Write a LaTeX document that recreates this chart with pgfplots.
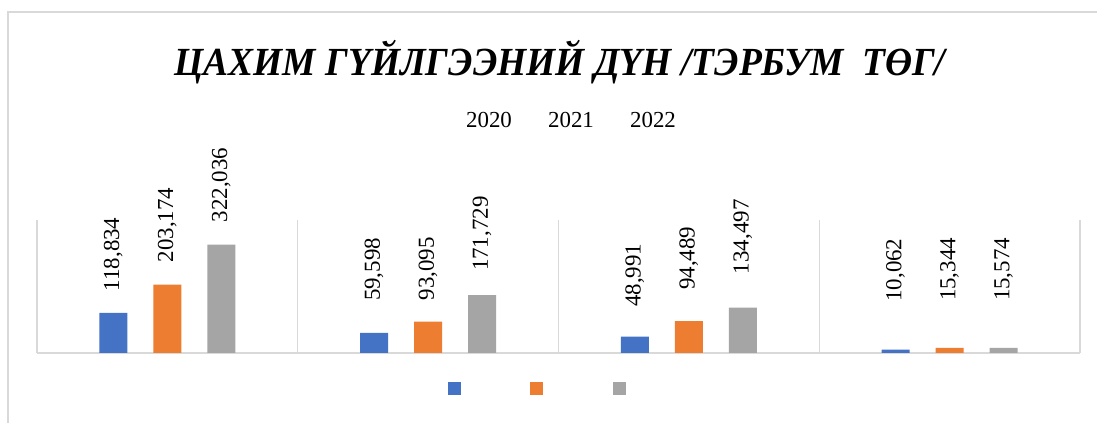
\documentclass[border=0pt]{standalone}
\usepackage{pgfplots}
\pgfplotsset{compat=1.18}
\usepackage{fontspec}
\setmainfont{Liberation Serif}
\definecolor{cblue}{HTML}{4472C4}
\definecolor{corange}{HTML}{ED7D31}
\definecolor{cgray}{HTML}{A5A5A5}
\definecolor{cgrid}{HTML}{D9D9D9}
\begin{document}
\begin{tikzpicture}
\useasboundingbox (0,0) rectangle (1097bp,423bp);
\fill[white] (0,0) rectangle (1097bp,423bp);
\draw[cgrid, line width=1.2bp] (1120bp,411bp) -- (8bp,411bp) -- (8bp,-20bp);
\node[font=\bfseries\itshape\fontsize{40}{48}\selectfont] at (560bp,361bp) {\scalebox{0.94}[1]{ЦАХИМ ГҮЙЛГЭЭНИЙ ДҮН /ТЭРБУМ \ ТӨГ/}};
\node[font=\fontsize{23}{27}\selectfont] at (489bp,303bp) {2020};
\node[font=\fontsize{23}{27}\selectfont] at (571bp,303bp) {2021};
\node[font=\fontsize{23}{27}\selectfont] at (653bp,303bp) {2022};
\begin{axis}[
  at={(37bp,70bp)}, anchor=south west,
  scale only axis, width=1043bp, height=133bp,
  xmin=0.5, xmax=4.5, ymin=0, ymax=395,
  axis line style={draw=none},
  xtick={0.5,1.5,2.5,3.5,4.5}, xticklabels={},
  ytick={0}, yticklabels={},
  major tick length=0pt,
  xmajorgrids, ymajorgrids,
  grid style={cgrid, line width=1.2bp},
  clip=false,
  legend columns=3,
  legend style={at={(rel axis cs:0.394,-0.267)}, anchor=west, draw=none, fill=none,
    inner sep=0pt, outer sep=0pt,
    nodes={inner sep=0pt, outer sep=0pt},
    /tikz/every even column/.append style={column sep=19.5bp}},
  legend image code/.code={\fill[#1] (0bp,-6.5bp) rectangle (13bp,6.5bp);},
  every node near coord/.append style={font=\fontsize{23}{27}\selectfont, rotate=90, anchor=west, inner sep=0pt, black},
]
\addplot[ybar, bar width=28bp, bar shift=-54bp, fill=cblue, draw=none] coordinates {(1,118.834) (2,59.598) (3,48.991) (4,10.062)};
\addlegendentry{\hspace*{50bp}}
\addplot[ybar, bar width=28bp, bar shift=0bp, fill=corange, draw=none] coordinates {(1,203.174) (2,93.095) (3,94.489) (4,15.344)};
\addlegendentry{\hspace*{50bp}}
\addplot[ybar, bar width=28bp, bar shift=54bp, fill=cgray, draw=none] coordinates {(1,322.036) (2,171.729) (3,134.497) (4,15.574)};
\addlegendentry{\hspace*{50bp}}
% data labels (rotated 90: local y points to global left)
\addplot[forget plot, only marks, mark=none, nodes near coords, point meta=explicit symbolic,
  every node near coord/.append style={yshift=54bp}] coordinates {(1,183)[118,834] (2,154)[59,598] (3,137)[48,991] (4,152)[10,062]};
\addplot[forget plot, only marks, mark=none, nodes near coords, point meta=explicit symbolic] coordinates {(1,269)[203,174] (2,156)[93,095] (3,187)[94,489] (4,154)[15,344]};
\addplot[forget plot, only marks, mark=none, nodes near coords, point meta=explicit symbolic,
  every node near coord/.append style={yshift=-54bp}] coordinates {(1,388)[322,036] (2,243)[171,729] (3,234)[134,497] (4,154)[15,574]};
\end{axis}
\end{tikzpicture}
\end{document}
